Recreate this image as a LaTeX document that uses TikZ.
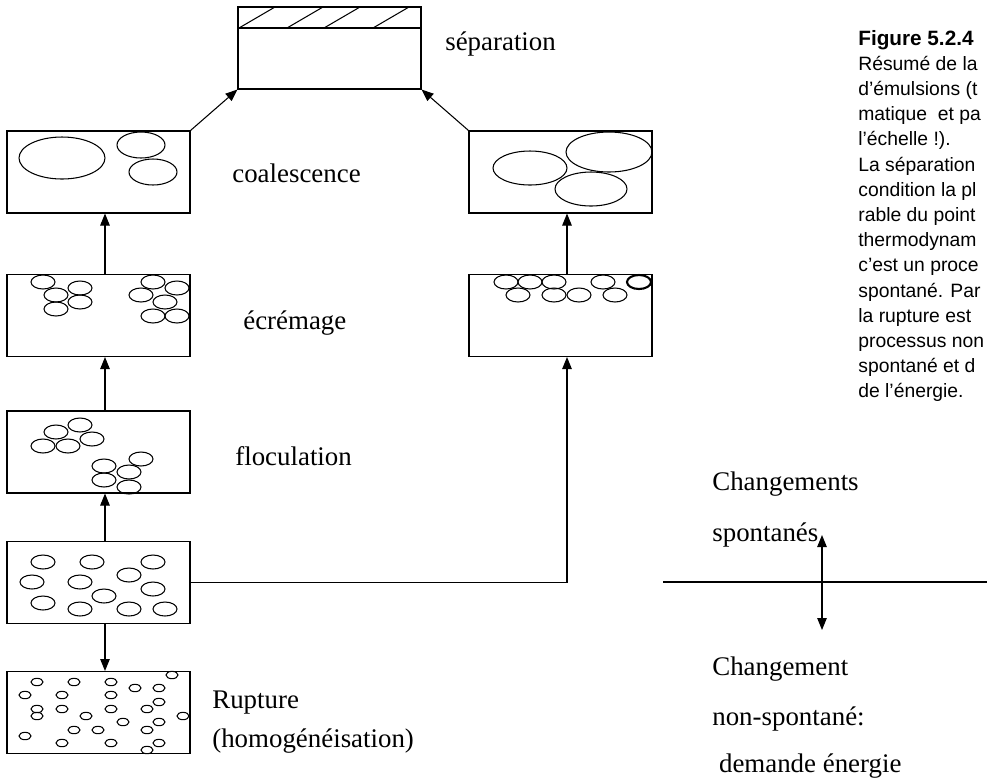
\documentclass[tikz,border=0pt]{standalone}
\usepackage{fontspec}
\setmainfont{Liberation Serif}
\newfontfamily\helv{Liberation Sans}
\usepackage{tikz}
\usetikzlibrary{arrows.meta, calc}

\begin{document}
\begin{tikzpicture}[
    x=0.02cm, y=-0.02cm,
    stage/.style={draw, line width=0.6pt, minimum width=3.66cm, minimum height=1.64cm, inner sep=0pt},
    drop/.style={line width=0.6pt},
    arr/.style={-{Triangle[length=2.4mm, width=1.9mm]}, line width=0.6pt},
    lab/.style={font=\fontsize{15.3}{18}\selectfont, anchor=base west, inner sep=0pt},
    note/.style={font=\helv\fontsize{11}{14}\selectfont, anchor=base west, inner sep=0pt}
]
\useasboundingbox (0,0) rectangle (987,779);
\clip (0,0) rectangle (987,779);

% Stages (top to bottom)
\node[stage] (sep)   at (329.5, 48)    {};
\node[stage] (coalL) at (98.5, 172)    {};
\node[stage] (ecrL)  at (98.5, 315.5)  {};
\node[stage] (flocL) at (98.5, 452)    {};
\node[stage] (disp)  at (98.5, 582.5)  {};
\node[stage] (rupt)  at (98.5, 712.5)  {};
\node[stage] (coalR) at (560.5, 172)   {};
\node[stage] (ecrR)  at (560.5, 315.5) {};
\coordinate (axisL) at (105, 0);
\coordinate (axisR) at (567, 0);

% Separated layer on top
\draw[line width=0.6pt] (238, 28) -- (421, 28);
\foreach \a in {239, 287, 324, 373} {
    \draw[line width=0.6pt] (\a, 28) -- ++(36, -21);
}

% Droplets
\foreach \x/\y/\rx/\ry in {62/158/43/21, 141/145/24/13, 153/172/24/13,
                           530/168/37/17, 609/152/43/20, 591/189/36/17} {
    \draw[drop] (\x, \y) ellipse [x radius=\rx, y radius=\ry];
}
\foreach \x/\y in {43/282, 80/288, 56/295, 80/302, 56/309,
                   153/282, 177/288, 141/295, 165/302, 153/316, 177/316,
                   56/432, 80/425, 43/446, 68/446, 92/439,
                   104/466, 141/459, 129/472, 104/480, 129/487,
                   43/562, 92/562, 153/562, 32/582, 80/582, 129/575,
                   153/589, 104/596, 43/603, 80/609, 129/609, 165/609,
                   506/282, 530/282, 554/282, 603/282,
                   518/295, 554/295, 579/295, 615/295} {
    \draw[drop] (\x, \y) ellipse [x radius=12, y radius=7];
}
\draw[line width=1.2pt] (639, 282) ellipse [x radius=12, y radius=7];
\foreach \x/\y in {172/675, 37/682, 74/682, 111/682, 135/688, 159/688,
                   25/695, 62/695, 111/695, 159/702, 37/709, 62/709,
                   111/709, 147/709, 37/716, 86/716, 183/716, 123/722,
                   159/722, 74/730, 98/730, 147/730, 25/736, 62/743,
                   111/743, 159/743, 147/750} {
    \draw[drop] (\x, \y) ellipse [x radius=6, y radius=3.7];
}

% Arrows between stages
\foreach \lower/\upper in {ecrL/coalL, flocL/ecrL, disp/flocL} {
    \draw[arr] (\lower.north -| axisL) -- (\upper.south -| axisL);
}
\draw[arr] (disp.south -| axisL) -- (rupt.north -| axisL);
\draw[arr] (ecrR.north -| axisR) -- (coalR.south -| axisR);
\draw[arr] (disp.east) -| (ecrR.south -| axisR);
\draw[arr] (coalL.north east) -- (sep.south west);
\draw[arr] (coalR.north west) -- (sep.south east);

% Stage labels
\node[lab] (tsep)  at (445, 50)  {séparation};
\node[lab] (tcoal) at (232, 182) {coalescence};
\node[lab] (tecr)  at (243, 329) {écrémage};
\node[lab] (tfloc) at (235, 465) {floculation};
\node[lab] (trup)  at (212, 708) {Rupture};
\node[lab] (thom)  at (212, 747) {(homogénéisation)};

% Energy scale
\draw[line width=0.6pt] (663, 582) -- (987, 582);
\coordinate (up) at (822, 535);
\coordinate (dn) at (822, 630);
\draw[arr, {Triangle[length=2.4mm, width=1.9mm]}-{Triangle[length=2.4mm, width=1.9mm]}] (up) -- (dn);
\node[lab] (ch1) at (712, 490) {Changements};
\node[lab] (ch2) at (712, 541) {spontanés};
\node[lab] (ch3) at (712, 675) {Changement};
\node[lab] (ch4) at (712, 725) {non-spontané:};
\node[lab] (ch5) at (712, 772) {\ demande énergie};

% Caption
\node[note, font=\helv\bfseries\fontsize{11.8}{14}\selectfont] (cap) at (858, 45) {Figure 5.2.4};
\foreach \txt [count=\i] in {{Résumé de la}, {d’émulsions (t}, {matique \ et pa},
        {l’échelle !).}, {La séparation}, {condition la pl}, {rable du point},
        {thermodynam}, {c’est un proce}, {spontané. Par}, {la rupture est},
        {processus non}, {spontané et d}, {de l’énergie.}} {
    \node[note] (note\i) at (858, 45+25.2*\i) {\txt};
}

\end{tikzpicture}
\end{document}
